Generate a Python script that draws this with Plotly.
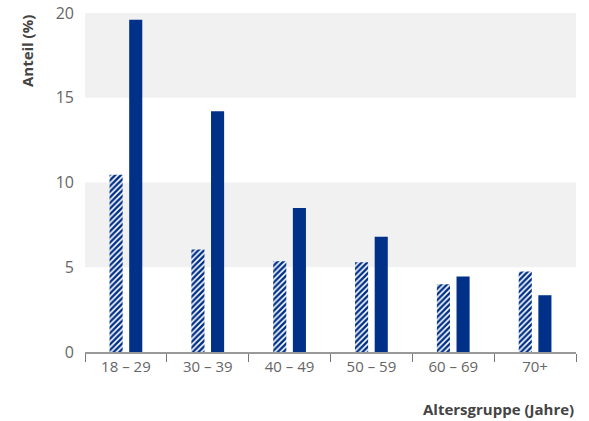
import plotly.graph_objects as go

# data
groups = ["18 – 29", "30 – 39", "40 – 49", "50 – 59", "60 – 69", "70+"]
hatched_vals = [10.45, 6.05, 5.35, 5.3, 4.0, 4.75]
solid_vals = [19.6, 14.2, 8.5, 6.8, 4.45, 3.35]
y_ticks = [0, 5, 10, 15, 20]

navy = "#003087"
gray_txt = "#666666"

fig = go.Figure()

fig.add_trace(go.Bar(
    x=groups, y=hatched_vals,
    width=0.16, offset=-0.2,
    marker=dict(color="white", line=dict(width=0),
                pattern=dict(shape="/", fgcolor=navy, bgcolor="white", fgopacity=1,
                             size=4, solidity=0.6)),
    showlegend=False,
))
fig.add_trace(go.Bar(
    x=groups, y=solid_vals,
    width=0.16, offset=0.04,
    marker=dict(color=navy, line=dict(width=0)),
    showlegend=False,
))

# grey bands 15-20 and 5-10
for y0, y1 in [(15, 20), (5, 10)]:
    fig.add_shape(type="rect", xref="paper", yref="y", x0=0, x1=1, y0=y0, y1=y1,
                  fillcolor="#f1f1f1", line=dict(width=0), layer="below")

fig.update_layout(
    width=589, height=421,
    margin=dict(l=85, r=13, t=13, b=69, autoexpand=False),
    plot_bgcolor="white", paper_bgcolor="white",
    font=dict(family="Open Sans", size=15, color=gray_txt),
    barmode="overlay",
    xaxis=dict(
        automargin=False,
        showline=True, linecolor="#999999", linewidth=2,
        ticks="outside", tickson="boundaries", ticklen=8, tickcolor="#777777",
        tickfont=dict(size=15, color=gray_txt),
        showgrid=False,
    ),
    yaxis=dict(
        automargin=False, ticklabeloverflow="allow",
        range=[0, 20], tickvals=y_ticks, showgrid=False, zeroline=False,
        showline=False, ticks="", ticklabelstandoff=10,
        tickfont=dict(size=16, color=gray_txt),
    ),
    annotations=[
        dict(text="<b>Anteil (%)</b>", xref="paper", yref="paper",
             x=-0.118, y=1.0, xanchor="center", yanchor="top", textangle=-90,
             showarrow=False, font=dict(size=15, color="#444444")),
        dict(text="<b>Altersgruppe (Jahre)</b>", xref="paper", yref="paper",
             x=1.0, y=-0.168, xanchor="right", yanchor="middle",
             showarrow=False, font=dict(size=15, color="#444444")),
    ],
)

# drop the default body margin so the figure fills the window exactly
fig.write_html("out.html", config={"displayModeBar": False},
               post_script="document.body.style.margin='0';")
